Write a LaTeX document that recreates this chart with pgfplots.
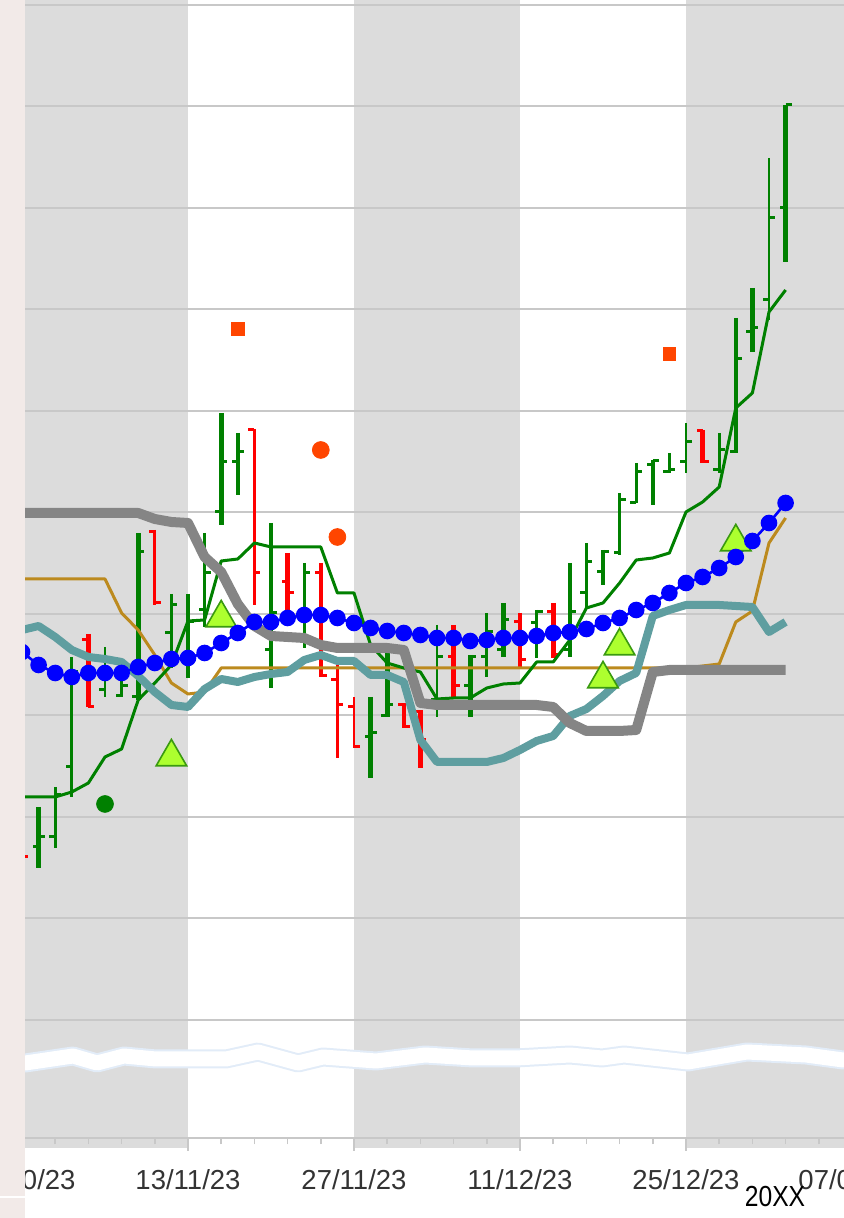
\documentclass[border=0pt]{standalone}
\usepackage{fontspec}
\setmainfont{Liberation Sans}
\usepackage{graphicx}
\usepackage{pgfplots}
\usepackage{pgfplotstable}
\pgfplotsset{compat=1.18}

\definecolor{bandgray}{HTML}{DCDCDC}
\definecolor{gridgray}{HTML}{C8C8C8}
\definecolor{pinkstrip}{HTML}{F2EAE8}
\definecolor{linegray}{HTML}{858585}
\definecolor{tealline}{HTML}{5F9EA0}
\definecolor{dgreen}{HTML}{008000}
\definecolor{brownline}{HTML}{BC8A1E}
\definecolor{orred}{HTML}{FF4500}
\definecolor{trifill}{HTML}{ADFF2F}
\definecolor{triedge}{HTML}{3A9A10}
\definecolor{labelc}{HTML}{333333}
\definecolor{wavyedge}{HTML}{E2ECF8}

% OHLC bars: x = trading day index (0 = 13/11/23), values h l o c
\pgfplotstableread{
x h l o c
-9 331 270 291 301
-3 605 438 441 586
0 544 460 478 516
2 725 613 626 676
3 705 643 676 686
5 615 450 488 525
11 441 360 401 405
12 485 421 422 433
17 483 421 452 481
19 535 481 488 518
23 575 481 488 526
25 588 553 566 586
28 678 633 673 677
33 820 685 686 779
34 850 786 806 810
36 1033 876 930 1033
}\greenthick

\pgfplotstableread{
x h l o c
-8 351 290 301 343
-7 481 341 371 466
-5 491 441 448 478
-4 461 441 442 452
-1 544 470 505 533
1 605 511 528 565
7 575 490 498 565
15 513 421 438 481
18 525 461 481 506
21 528 480 515 526
24 595 531 545 576
26 645 583 585 638
27 675 635 635 666
29 685 665 666 668
30 715 665 676 696
32 705 665 668 688
35 980 818 838 920
}\greenthin

\pgfplotstableread{
x h l o c
-6 504 431 498 431
6 585 521 556 545
8 575 461 565 462
13 435 410 433 411
14 428 370 426 398
16 513 441 481 452
20 525 471 516 478
22 535 480 526 483
31 708 675 707 676
}\redthick

\pgfplotstableread{
x h l o c
-10 293 268 290 281
-2 608 533 606 535
4 709 533 708 565
9 475 380 458 433
10 441 390 431 391
}\redthin

\newcommand{\ohlc}[3]{%
  \addplot[draw=#2, line width=#3, quiver={u=0, v=\thisrow{l}-\thisrow{h}}] table[x=x, y=h] {#1};
  \addplot[draw=#2, line width=1.5pt, quiver={u=-0.36, v=0}] table[x=x, y=o] {#1};
  \addplot[draw=#2, line width=1.5pt, quiver={u=0.36, v=0}] table[x=x, y=c] {#1};
}

\begin{document}
\begin{tikzpicture}
\begin{axis}[
  at={(6.85pt,40pt)}, anchor=south west,
  width=423.3pt, height=567pt, scale only axis,
  xmin=-10.5, xmax=40.5, ymin=0, ymax=1134,
  set layers,
  axis x line*=bottom, axis y line*=left,
  y axis line style={draw=none},
  x axis line style={draw=gridgray, line width=1pt, -},
  ytick={118,219.5,321,422.5,524,625.5,727,828.5,930,1031.5,1133},
  yticklabels={},
  ytick style={draw=none},
  ymajorgrids,
  major grid style={draw=gridgray, line width=1pt},
  xtick={-10,0,10,20,30,40},
  xticklabels={30/10/23,13/11/23,27/11/23,11/12/23,25/12/23,07/01/24},
  minor x tick num=4,
  tick align=outside,
  xtick style={draw=gridgray, line width=0.8pt},
  major tick length=6.5pt, minor tick length=3.2pt,
  xticklabel style={font=\fontsize{13.75pt}{16pt}\selectfont, text=labelc, yshift=-6pt},
]
% background bands
\addplot[on layer=axis background, fill=bandgray, draw=none] coordinates {(-11,-10) (0,-10) (0,1200) (-11,1200)};
\addplot[on layer=axis background, fill=bandgray, draw=none] coordinates {(10,-10) (20,-10) (20,1200) (10,1200)};
\addplot[on layer=axis background, fill=bandgray, draw=none] coordinates {(30,-10) (41,-10) (41,1200) (30,1200)};
% axis break band
\addplot[on layer=axis background, draw=wavyedge, line width=9.5pt, line join=round] coordinates {
(-11,75) (-9.8,75) (-6.93,82) (-5.48,75) (-3.86,82) (-1.93,79) (0,79) (2.29,79) (4.22,86) (6.63,75) (8.13,81) (11.33,77) (14.28,83) (17.17,80) (19.76,80) (23.01,83) (24.94,80) (26.27,83) (30.12,76) (33.67,86) (37.23,83) (39.46,78) (41,78)};
\addplot[on layer=axis background, draw=white, line width=7.5pt, line join=round] coordinates {
(-11,75) (-9.8,75) (-6.93,82) (-5.48,75) (-3.86,82) (-1.93,79) (0,79) (2.29,79) (4.22,86) (6.63,75) (8.13,81) (11.33,77) (14.28,83) (17.17,80) (19.76,80) (23.01,83) (24.94,80) (26.27,83) (30.12,76) (33.67,86) (37.23,83) (39.46,78) (41,78)};

% OHLC bars
\ohlc{\greenthick}{dgreen}{2.3pt}
\ohlc{\greenthin}{dgreen}{1.45pt}
\ohlc{\redthick}{red}{2.3pt}
\ohlc{\redthin}{red}{1.45pt}

% brown line
\addplot[draw=brownline, line width=1.5pt, line join=round] coordinates {
(-11,559) (-10,559) (-9,559) (-8,559) (-7,559) (-6,559) (-5,559) (-4,525) (-3,508) (-2,483) (-1,455) (0,444) (1,446) (2,470) (3,470) (10,470) (20,470) (30,470) (32,474) (33,516) (34,527) (35,595) (36,620)};

% triangles
\addplot[only marks, mark=triangle*, mark size=8.8pt, mark options={fill=trifill, draw=triedge, line width=0.8pt}] coordinates {
(-1,381) (2,520) (26,492) (25,459) (33,596)};

% green line
\addplot[draw=dgreen, line width=1.5pt, line join=round] coordinates {
(-11,341) (-10,341) (-9,341) (-8,341) (-7,346) (-6,355) (-5,381) (-4,389) (-3,438) (-2,455) (-1,473) (0,517) (1,518) (2,577) (3,579) (4,595) (5,591) (6,591) (7,591) (8,591) (9,545) (10,545) (11,493) (12,475) (13,470) (14,466) (15,439) (16,440) (17,440) (18,450) (19,454) (20,455) (21,476) (22,476) (23,498) (24,530) (25,535) (26,555) (27,578) (28,580) (29,585) (30,626) (31,636) (32,651) (33,730) (34,745) (35,826) (36,848)};

% teal line
\addplot[draw=tealline, line width=4pt, line join=round] coordinates {
(-11,505) (-10,508) (-9,512) (-8,501) (-7,488) (-6,481) (-5,479) (-4,476) (-3,462) (-2,446) (-1,433) (0,431) (1,449) (2,459) (3,456) (4,461) (5,464) (6,466) (7,478) (8,483) (9,477) (10,477) (11,463) (12,463) (13,456) (14,398) (15,376) (16,376) (17,376) (18,376) (19,380) (20,388) (21,397) (22,402) (23,422) (24,429) (25,442) (26,457) (27,465) (28,522) (29,528) (30,533) (31,533) (32,533) (33,532) (34,531) (35,506) (36,516)};

% gray line
\addplot[draw=linegray, line width=5pt, line join=round] coordinates {
(-11,625) (-10,625) (-9,625) (-8,625) (-7,625) (-6,625) (-5,625) (-4,625) (-3,625) (-2,619) (-1,616) (0,615) (1,581) (2,566) (3,534) (4,512) (5,502) (6,501) (7,500) (8,493) (9,490) (10,490) (11,490) (12,490) (13,488) (14,435) (15,433) (16,433) (17,433) (18,433) (19,433) (20,433) (21,433) (22,431) (23,415) (24,407) (25,407) (26,407) (27,408) (28,466) (29,468) (30,468) (31,468) (32,468) (33,468) (34,468) (35,468) (36,468)};

% blue moving average with dots
\addplot[draw=blue, line width=1.3pt, mark=*, mark size=3.5pt, mark options={fill=blue, draw=blue}] coordinates {
(-10,486) (-9,473) (-8,465) (-7,461) (-6,465) (-5,465) (-4,465) (-3,471) (-2,475) (-1,479) (0,480) (1,485) (2,495) (3,505) (4,516) (5,516) (6,520) (7,523) (8,523) (9,520) (10,515) (11,510) (12,507) (13,505) (14,503) (15,500) (16,500) (17,497) (18,498) (19,500) (20,500) (21,502) (22,505) (23,506) (24,509) (25,515) (26,520) (27,528) (28,535) (29,545) (30,555) (31,561) (32,570) (33,581) (34,597) (35,615) (36,635)};

% squares
\addplot[only marks, mark=square*, mark size=3.1pt, mark options={fill=orred, draw=orred}] coordinates {(3,809) (29,784)};
% orange circles
\addplot[only marks, mark=*, mark size=4.2pt, mark options={fill=orred, draw=orred}] coordinates {(8,688) (9,601)};
% green circle
\addplot[only marks, mark=*, mark size=4.2pt, mark options={fill=dgreen, draw=dgreen}] coordinates {(-5,334)};
\end{axis}
% left strip
\fill[pinkstrip] (0,0) rectangle (12.5pt,609pt);
\draw[white, line width=1pt] (0,10.5pt) -- (12.5pt,10.5pt);
\node[text=black, inner sep=0pt] at (387.5pt,10.5pt) {\fontsize{14.5pt}{16pt}\selectfont\scalebox{0.85}[1]{20XX}};
\pgfresetboundingbox
\useasboundingbox (0,0) rectangle (421.5pt,609pt);
\end{tikzpicture}
\end{document}
